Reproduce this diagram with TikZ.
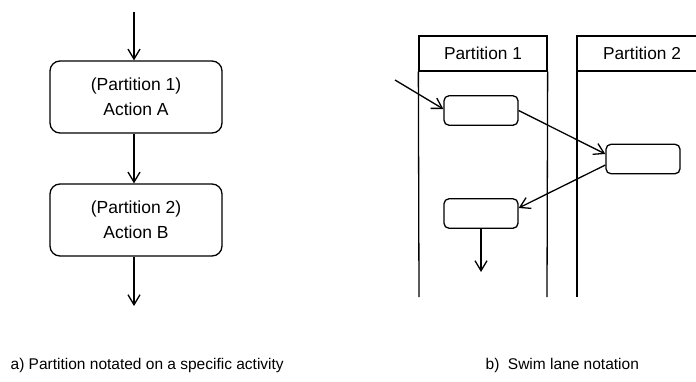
\documentclass[tikz,border=0pt]{standalone}
\usepackage{fontspec}
\setmainfont{Liberation Sans}
\usetikzlibrary{arrows.meta}
\begin{document}
\begin{tikzpicture}[x=1pt,y=-1pt,
  line width=1.3pt,
  arr/.style={-{Straight Barb[length=10pt,width=12pt,line width=1.3pt]}},
  bigact/.style={draw,rounded corners=10pt,minimum width=172pt,minimum height=72pt,
    inner sep=0pt,align=center,font=\fontsize{17.5}{25}\selectfont},
  smallact/.style={draw,rounded corners=5pt,minimum width=74pt,minimum height=29.5pt,inner sep=0pt},
  hdr/.style={draw,minimum height=35pt,inner sep=0pt,font=\fontsize{17.3}{20}\selectfont},
  captext/.style={anchor=base west,inner sep=0pt,font=\fontsize{15.5}{18}\selectfont}]
\useasboundingbox (0,0) rectangle (696,381);
% ---- a) partition notated on activity
\coordinate (s0) at (134,12);
\node[bigact] (A) at (136,97) {(Partition 1)\\Action A};
\node[bigact] (B) at (136,220) {(Partition 2)\\Action B};
\coordinate (e0) at (134,306);
\draw[arr] (s0) -- (s0 |- A.north);
\draw[arr] (A.south -| s0) -- (B.north -| s0);
\draw[arr] (B.south -| e0) -- (e0);
% ---- b) swim lanes
\node[hdr,minimum width=128pt] (h1) at (483,53.5) {Partition 1};
\draw (h1.south west) -- (419,297);
\draw (h1.south east) -- (547,297);
\node[inner sep=0pt,font=\fontsize{17.3}{20}\selectfont] (h2) at (642,53.5) {Partition 2};
\draw (696,36) -- (577,36) -- (577,297);
\draw (577,71) -- (696,71);
\node[smallact] (b1) at (481,110.5) {};
\node[smallact] (b2) at (643,159) {};
\node[smallact] (b3) at (481,213.5) {};
\coordinate (in) at (395,80);
\coordinate (out) at (481,272);
\draw[arr] (in) -- ([yshift=1.5pt]b1.west);
\draw[arr] (b1.east) -- ([yshift=5pt]b2.west);
\draw[arr] ([yshift=-6pt]b2.west) -- ([yshift=5.5pt]b3.east);
\draw[arr] (b3.south) -- (out);
% ---- captions
\node[captext] (ca) at (10,369) {a) Partition notated on a specific activity};
\node[captext] (cb) at (485,369) {b)\hspace{0.55em}Swim lane notation};
\end{tikzpicture}
\end{document}
